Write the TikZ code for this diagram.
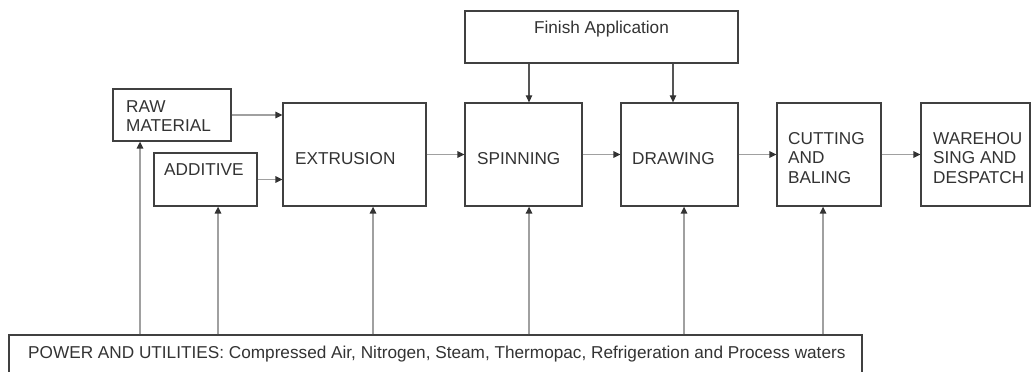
\documentclass[tikz,border=0pt]{standalone}
\usepackage{fontspec}
\setmainfont{Liberation Sans}
\usetikzlibrary{arrows.meta}
\definecolor{boxc}{HTML}{404040}
\definecolor{linec}{HTML}{A0A0A0}
\definecolor{darkc}{HTML}{555555}
\definecolor{txtc}{HTML}{333333}
\tikzset{
  box/.style={draw=boxc, line width=1.3pt, inner sep=0pt, fill=white},
  lbl/.style={text=txtc, inner sep=0pt, font=\fontsize{17.2}{19.8}\selectfont, align=left},
  conn/.style={draw=linec, line width=1.4pt, -{Triangle[length=7pt,width=6.5pt,color=txtc]}},
  dconn/.style={draw=darkc, line width=1.2pt, -{Triangle[length=7pt,width=6.5pt,color=txtc]}}
}
\begin{document}
\begin{tikzpicture}[x=1pt,y=-1pt]
\useasboundingbox (0,0) rectangle (1031,372);
\clip (0,0) rectangle (1031,372);
% boxes
\node[box, minimum width=118pt, minimum height=52pt] (raw) at (172,115) {};
\node[box, minimum width=103pt, minimum height=53pt] (add) at (205.5,179.5) {};
\node[box, minimum width=143pt, minimum height=103pt] (ext) at (354.5,154.5) {};
\node[box, minimum width=117pt, minimum height=103pt] (spin) at (523.5,154.5) {};
\node[box, minimum width=117pt, minimum height=103pt] (drw) at (679.5,154.5) {};
\node[box, minimum width=104pt, minimum height=103pt] (cut) at (829,154.5) {};
\node[box, minimum width=109pt, minimum height=103pt] (ware) at (975.5,154.5) {};
\node[box, minimum width=273pt, minimum height=52pt] (fin) at (601.5,37) {};
\node[box, minimum width=853pt, minimum height=60pt] (pow) at (435.5,365) {};
% labels
\node[lbl, anchor=west] (rawt) at (126,116) {RAW\\MATERIAL};
\node[lbl, anchor=base west] (addt) at (164,175) {ADDITIVE};
\node[lbl, anchor=base west] (extt) at (295,164) {EXTRUSION};
\node[lbl, anchor=base west] (spint) at (477,164) {SPINNING};
\node[lbl, anchor=base west] (drwt) at (632,164) {DRAWING};
\node[lbl, anchor=west] (cutt) at (788,158) {CUTTING\\AND\\BALING};
\node[lbl, anchor=west] (waret) at (933,158) {WAREHOU\\SING AND\\DESPATCH};
\node[lbl, anchor=base] (fint) at (601.5,33) {Finish Application};
\node[lbl, anchor=base west] (powt) at (28,358) {POWER AND UTILITIES: Compressed Air, Nitrogen, Steam, Thermopac, Refrigeration and Process waters};
% x positions of vertical connectors
\coordinate (xraw) at (140,0);
\coordinate (xadd) at (218,0);
\coordinate (xext) at (373,0);
\coordinate (xspin) at (529,0);
\coordinate (xdrw) at (684,0);
\coordinate (xcut) at (823,0);
\coordinate (xfd) at (673,0);
% horizontal connectors
\draw[conn] (raw.east) -- (raw.east -| ext.west);
\draw[conn] (add.east) -- (add.east -| ext.west);
\draw[conn] (ext.east) -- (spin.west);
\draw[conn] (spin.east) -- (drw.west);
\draw[conn] (drw.east) -- (cut.west);
\draw[conn] (cut.east) -- (ware.west);
% finish application
\draw[dconn] (fin.south -| xspin) -- (spin.north -| xspin);
\draw[dconn] (fin.south -| xfd) -- (drw.north -| xfd);
% utilities
\draw[conn] (pow.north -| xraw) -- (raw.south -| xraw);
\draw[conn] (pow.north -| xadd) -- (add.south -| xadd);
\draw[conn] (pow.north -| xext) -- (ext.south -| xext);
\draw[conn] (pow.north -| xspin) -- (spin.south -| xspin);
\draw[conn] (pow.north -| xdrw) -- (drw.south -| xdrw);
\draw[conn] (pow.north -| xcut) -- (cut.south -| xcut);
\end{tikzpicture}
\end{document}
